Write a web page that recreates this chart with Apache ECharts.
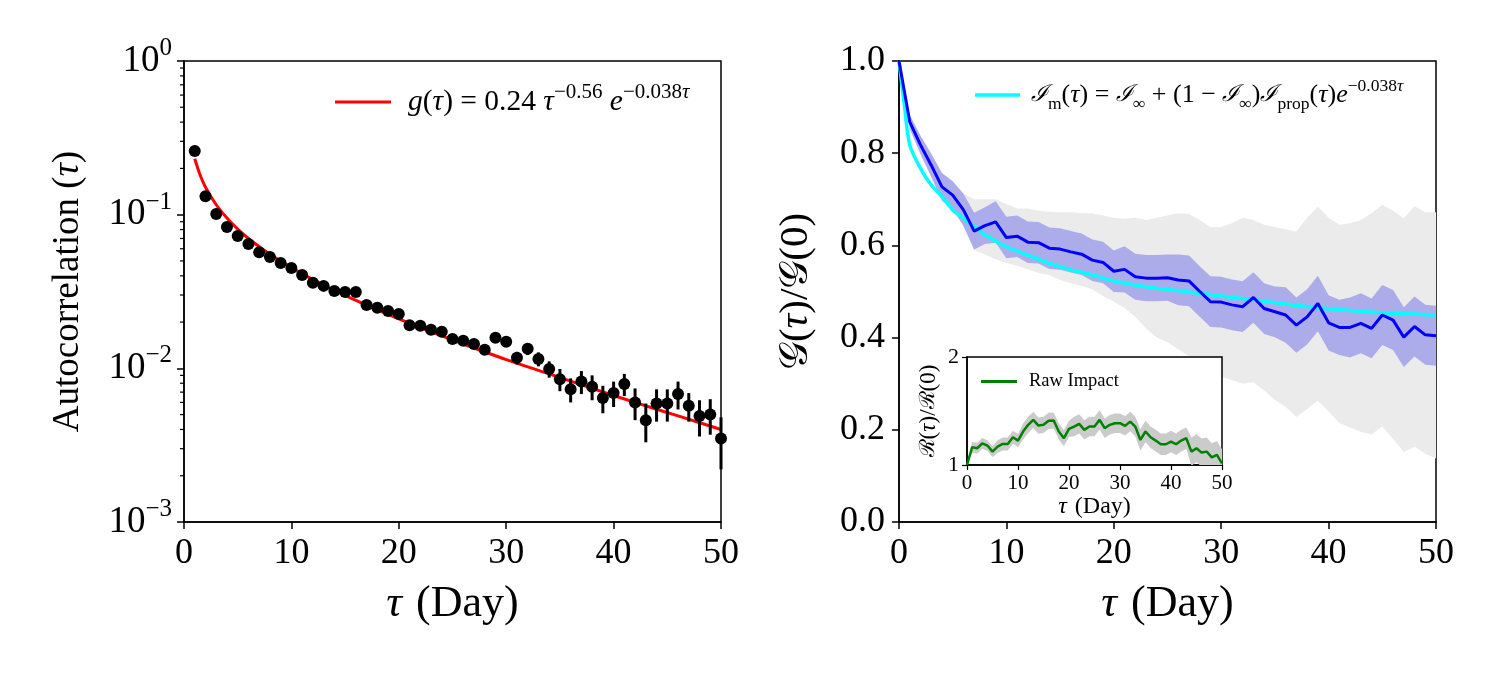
<!DOCTYPE html>
<html>
<head>
<meta charset="utf-8">
<script src="https://cdn.jsdelivr.net/npm/echarts@6/dist/echarts.min.js"></script>
<style>
html, body { margin: 0; padding: 0; background: #fff; }
#chart { width: 1500px; height: 675px; }
</style>
</head>
<body>
<div id="chart"></div>
<script>
// ---- left panel: autocorrelation vs lag (days 1..50)
const acf = [0.26, 0.132, 0.101, 0.083, 0.0727, 0.0644, 0.057, 0.053, 0.0485, 0.045,
  0.0405, 0.036, 0.0344, 0.0319, 0.0314, 0.0314, 0.0258, 0.0248, 0.0236, 0.0226,
  0.0191, 0.0189, 0.0178, 0.0173, 0.0155, 0.0151, 0.0144, 0.0132, 0.0158, 0.0149,
  0.0117, 0.0134, 0.0115, 0.0099, 0.0085, 0.0073, 0.0082, 0.0076, 0.0064, 0.0069,
  0.0079, 0.0060, 0.0046, 0.0059, 0.0059, 0.0068, 0.0057, 0.0049, 0.0050, 0.0035];
const acfErr = [0.001, 0.001, 0.001, 0.001, 0.001, 0.001, 0.001, 0.001, 0.001, 0.001,
  0.0009, 0.0009, 0.0009, 0.0009, 0.0009, 0.0009, 0.0009, 0.0009, 0.0009, 0.0009,
  0.001, 0.001, 0.001, 0.001, 0.001, 0.001, 0.001, 0.001, 0.001, 0.001,
  0.0011, 0.0012, 0.0012, 0.0012, 0.0014, 0.0013, 0.0014, 0.0014, 0.0013, 0.0013,
  0.0013, 0.0014, 0.0013, 0.0014, 0.0014, 0.0014, 0.0012, 0.0013, 0.0013, 0.0013];
const fitDays = [1, 1.5, 2, 3, 4, 5, 6, 7, 8, 10, 12, 14, 16, 18, 20, 23, 26, 30, 34, 38, 42, 46, 50];
const fitVals = [0.231, 0.181, 0.151, 0.116, 0.095, 0.0805, 0.070, 0.062, 0.0553, 0.0452, 0.0378,
  0.0321, 0.0277, 0.0240, 0.0210, 0.0173, 0.0144, 0.0114, 0.0092, 0.0074, 0.0060, 0.0049, 0.0040];
const minorTicks = [0.002, 0.003, 0.004, 0.005, 0.006, 0.007, 0.008, 0.009,
  0.02, 0.03, 0.04, 0.05, 0.06, 0.07, 0.08, 0.09,
  0.2, 0.3, 0.4, 0.5, 0.6, 0.7, 0.8, 0.9];

// ---- right panel: G(tau)/G(0), days 0..50
const ratio = [1.0, 0.868, 0.818, 0.774, 0.727, 0.709, 0.677, 0.631, 0.643, 0.651, 0.617,
  0.620, 0.607, 0.606, 0.594, 0.592, 0.586, 0.581, 0.568, 0.563, 0.544,
  0.548, 0.532, 0.529, 0.529, 0.530, 0.525, 0.523, 0.500, 0.478, 0.477,
  0.471, 0.467, 0.487, 0.463, 0.456, 0.449, 0.427, 0.445, 0.474, 0.432,
  0.422, 0.422, 0.431, 0.420, 0.449, 0.438, 0.401, 0.424, 0.406, 0.404];
const ratioErr = [0, 0.015, 0.02, 0.025, 0.03, 0.03, 0.035, 0.04, 0.04, 0.045, 0.045,
  0.045, 0.045, 0.045, 0.045, 0.045, 0.045, 0.045, 0.045, 0.045, 0.045,
  0.05, 0.05, 0.05, 0.05, 0.05, 0.055, 0.055, 0.055, 0.055, 0.055,
  0.055, 0.055, 0.055, 0.055, 0.055, 0.06, 0.06, 0.06, 0.06, 0.06,
  0.06, 0.065, 0.065, 0.065, 0.065, 0.065, 0.065, 0.065, 0.065, 0.065];
const spreadHi = [1.0, 0.883, 0.838, 0.799, 0.757, 0.739, 0.712, 0.70, 0.70, 0.70, 0.69,
  0.68, 0.68, 0.675, 0.673, 0.672, 0.672, 0.67, 0.67, 0.665, 0.66,
  0.658, 0.66, 0.655, 0.66, 0.665, 0.67, 0.668, 0.655, 0.64, 0.64,
  0.648, 0.66, 0.655, 0.645, 0.64, 0.635, 0.63, 0.66, 0.684, 0.66,
  0.645, 0.648, 0.655, 0.67, 0.688, 0.675, 0.659, 0.685, 0.672, 0.672];
const spreadLo = [1.0, 0.853, 0.798, 0.749, 0.697, 0.679, 0.642, 0.59, 0.58, 0.57, 0.562,
  0.556, 0.548, 0.54, 0.535, 0.525, 0.518, 0.512, 0.505, 0.49, 0.478,
  0.464, 0.445, 0.42, 0.40, 0.39, 0.375, 0.36, 0.345, 0.33, 0.315,
  0.308, 0.30, 0.303, 0.285, 0.265, 0.25, 0.228, 0.245, 0.263, 0.24,
  0.215, 0.205, 0.196, 0.19, 0.207, 0.18, 0.152, 0.163, 0.148, 0.138];
const modelDays = [0, 0.5, 1, 2, 3, 4, 5, 6, 7, 8, 10, 12, 14, 16, 18, 20, 22, 24, 27, 30, 33, 36, 39, 42, 45, 48, 50];
const modelVals = [1.0, 0.905, 0.818, 0.767, 0.731, 0.706, 0.677, 0.659, 0.641, 0.623, 0.597, 0.579,
  0.561, 0.547, 0.536, 0.523, 0.514, 0.507, 0.499, 0.490, 0.482, 0.473, 0.465, 0.459, 0.454, 0.451, 0.449];

// ---- inset: raw impact R(tau)/R(0)
const impact = [1.0, 1.164, 1.155, 1.20, 1.18, 1.124, 1.17, 1.195, 1.195, 1.257, 1.226,
  1.31, 1.372, 1.418, 1.365, 1.372, 1.409, 1.412, 1.31, 1.248, 1.334,
  1.356, 1.381, 1.325, 1.356, 1.356, 1.418, 1.341, 1.372, 1.387, 1.387,
  1.362, 1.402, 1.356, 1.232, 1.31, 1.257, 1.226, 1.192, 1.192, 1.217,
  1.192, 1.226, 1.248, 1.124, 1.155, 1.115, 1.124, 1.071, 1.093, 1.015];
const impactErr = [0, 0.05, 0.05, 0.05, 0.05, 0.05, 0.06, 0.06, 0.06, 0.06, 0.06,
  0.075, 0.075, 0.075, 0.075, 0.075, 0.075, 0.075, 0.075, 0.075, 0.075,
  0.09, 0.09, 0.09, 0.09, 0.09, 0.09, 0.09, 0.09, 0.09, 0.09,
  0.09, 0.09, 0.09, 0.1, 0.1, 0.1, 0.1, 0.1, 0.1, 0.1,
  0.1, 0.1, 0.1, 0.13, 0.13, 0.13, 0.13, 0.13, 0.13, 0.13];

const FONT = "'Liberation Serif', 'DejaVu Serif', serif";

const lagDays = acf.map((v, i) => i + 1);
const days = ratio.map((v, i) => i);
const pairs = (xs, ys) => xs.map((x, i) => [x, ys[i]]);

const acfBars = lagDays.map((d, i) => [d, acf[i] - acfErr[i], acf[i] + acfErr[i]]);
const ratioLo = ratio.map((v, i) => v - ratioErr[i]);
const ratioHi = ratio.map((v, i) => v + ratioErr[i]);
const impactLo = impact.map((v, i) => v - impactErr[i]);
const impactHi = impact.map((v, i) => v + impactErr[i]);

// filled band between two curves, drawn as one polygon through the axes' scales
function band(xIdx, yIdx, lo, hi, color, z, zlevel) {
  return {
    type: "custom", xAxisIndex: xIdx, yAxisIndex: yIdx, silent: true, clip: true, z: z, zlevel: zlevel || 0,
    data: days.map((d, i) => [d, lo[i], hi[i]]),
    encode: { x: 0, y: [1, 2] },
    renderItem: (params, api) => {
      if (params.dataIndex !== 0) return null;
      const top = days.map((d, i) => api.coord([d, hi[i]]));
      const bot = days.map((d, i) => api.coord([d, lo[i]])).reverse();
      return { type: "polygon", shape: { points: top.concat(bot) }, style: { fill: color, stroke: null } };
    }
  };
}

const myChart = echarts.init(document.getElementById("chart"));

const axisBase = {
  axisLine: { show: true, onZero: false, lineStyle: { color: "#000", width: 1.5 } },
  axisTick: { show: true, inside: false, length: 7, lineStyle: { color: "#000", width: 1.5 } },
  splitLine: { show: false },
  nameTextStyle: { color: "#000", fontFamily: FONT }
};
const bigLabel = { color: "#000", fontFamily: FONT, fontSize: 36, margin: 12 };
const nameRich = {
  i: { fontStyle: "italic", fontFamily: FONT, fontSize: 44, color: "#000" },
  gap: { width: 14 },
  r: { fontFamily: FONT, fontSize: 44, color: "#000" }
};

const option = {
  animation: false,
  backgroundColor: "#fff",
  textStyle: { fontFamily: FONT },
  grid: [
    { left: 184, right: 779, top: 61, bottom: 153, show: true, borderColor: "#000", borderWidth: 1.5, containLabel: false },
    { left: 899, right: 64, top: 61, bottom: 153, show: true, borderColor: "#000", borderWidth: 1.5, containLabel: false },
    { left: 967, right: 278, top: 357, bottom: 210, show: true, borderColor: "#000", borderWidth: 1.5,
      backgroundColor: "#fff", zlevel: 1, containLabel: false }
  ],
  legend: [
    {
      data: ["fit"], left: 330, top: 77, icon: "rect", itemWidth: 56, itemHeight: 3,
      formatter: () => "{gap| }{i|g}{r|(}{i|τ}{r|) = 0.24 }{i|τ}{sup|−0.56}{r| }{i|e}{sup|−0.038}{supi|τ}",
      textStyle: {
        rich: {
          gap: { width: 12 },
          r: { fontFamily: FONT, fontSize: 29.5, lineHeight: 40, color: "#000" },
          i: { fontFamily: FONT, fontSize: 29.5, lineHeight: 40, fontStyle: "italic", color: "#000" },
          sup: { fontFamily: FONT, fontSize: 21, lineHeight: 20, verticalAlign: "top", color: "#000" },
          supi: { fontFamily: FONT, fontSize: 21, lineHeight: 20, verticalAlign: "top", fontStyle: "italic", color: "#000" }
        }
      }
    },
    {
      data: ["model"], left: 970, top: 72, icon: "rect", itemWidth: 45, itemHeight: 3.5,
      formatter: () => "{gap| }{I|ℐ}{sub|m}{r|(}{i|τ}{r|) = }{I|ℐ}{sub|∞}{r| + (1 − }{I|ℐ}{sub|∞}{r|)}{I|ℐ}{sub|prop}{r|(}{i|τ}{r|)}{i|e}{sup|−0.038}{supi|τ}",
      textStyle: {
        rich: {
          gap: { width: 6 },
          r: { fontFamily: FONT, fontSize: 26, lineHeight: 36, color: "#000" },
          i: { fontFamily: FONT, fontSize: 26, lineHeight: 36, fontStyle: "italic", color: "#000" },
          I: { fontFamily: "'DejaVu Serif', serif", fontSize: 23, lineHeight: 36, fontStyle: "italic", color: "#000" },
          sub: { fontFamily: FONT, fontSize: 17.5, lineHeight: 20, verticalAlign: "bottom", color: "#000" },
          sup: { fontFamily: FONT, fontSize: 17.5, lineHeight: 18, verticalAlign: "top", color: "#000" },
          supi: { fontFamily: FONT, fontSize: 17.5, lineHeight: 18, verticalAlign: "top", fontStyle: "italic", color: "#000" }
        }
      }
    },
    {
      data: ["Raw Impact"], left: 976, top: 367, icon: "rect", itemWidth: 36, itemHeight: 3, zlevel: 1,
      textStyle: { fontFamily: FONT, fontSize: 18.5, color: "#000", padding: [0, 0, 0, 7] }
    }
  ],
  xAxis: [
    Object.assign({}, axisBase, {
      gridIndex: 0, type: "value", min: 0, max: 50, interval: 10,
      axisLabel: Object.assign({}, bigLabel, { margin: 14 }),
      name: "{i|τ}{gap| }{r|(Day)}", nameLocation: "middle", nameGap: 60,
      nameTextStyle: { rich: nameRich }
    }),
    Object.assign({}, axisBase, {
      gridIndex: 1, type: "value", min: 0, max: 50, interval: 10,
      axisLabel: Object.assign({}, bigLabel, { margin: 14 }),
      name: "{i|τ}{gap| }{r|(Day)}", nameLocation: "middle", nameGap: 60,
      nameTextStyle: { rich: nameRich }
    }),
    Object.assign({}, axisBase, {
      gridIndex: 2, type: "value", min: 0, max: 50, interval: 10, zlevel: 1,
      axisTick: { show: true, inside: false, length: 5, lineStyle: { color: "#000", width: 1.2 } },
      axisLabel: { color: "#000", fontFamily: FONT, fontSize: 21, margin: 8 },
      name: "{i|τ}{gap| }{r|(Day)}", nameLocation: "middle", nameGap: 27,
      nameTextStyle: { rich: {
        i: { fontStyle: "italic", fontFamily: FONT, fontSize: 24, color: "#000" },
        gap: { width: 8 },
        r: { fontFamily: FONT, fontSize: 24, color: "#000" }
      } }
    })
  ],
  yAxis: [
    Object.assign({}, axisBase, {
      gridIndex: 0, type: "log", logBase: 10, min: 0.001, max: 1,
      axisLabel: {
        margin: 12,
        formatter: v => {
          const e = Math.round(Math.log10(v));
          return "{b|10}{s|" + (e < 0 ? "−" + (-e) : e) + "}";
        },
        rich: {
          b: { fontFamily: FONT, fontSize: 37, lineHeight: 50, color: "#000" },
          s: { fontFamily: FONT, fontSize: 25, lineHeight: 24, verticalAlign: "top", color: "#000" }
        }
      },
      name: "{r|Autocorrelation (}{i|τ}{r|)}", nameLocation: "middle", nameGap: 97,
      nameTextStyle: { rich: {
        i: { fontStyle: "italic", fontFamily: FONT, fontSize: 37, color: "#000" },
        r: { fontFamily: FONT, fontSize: 37, color: "#000" }
      } }
    }),
    Object.assign({}, axisBase, {
      gridIndex: 1, type: "value", min: 0, max: 1, interval: 0.2,
      axisLabel: Object.assign({}, bigLabel, { margin: 14, formatter: v => v.toFixed(1) }),
      name: "{g|𝒢}{r|(}{i|τ}{r|)/}{g|𝒢}{r|(0)}", nameLocation: "middle", nameGap: 82,
      nameTextStyle: { rich: {
        g: { fontFamily: "'DejaVu Sans', 'DejaVu Serif', serif", fontSize: 40, color: "#000" },
        i: { fontStyle: "italic", fontFamily: FONT, fontSize: 41, color: "#000" },
        r: { fontFamily: FONT, fontSize: 41, color: "#000" }
      } }
    }),
    Object.assign({}, axisBase, {
      gridIndex: 2, type: "value", min: 1, max: 2, interval: 1, zlevel: 1,
      axisTick: { show: true, inside: false, length: 5, lineStyle: { color: "#000", width: 1.2 } },
      axisLabel: { color: "#000", fontFamily: FONT, fontSize: 22, margin: 8 },
      name: "{g|ℛ}{r|(}{i|τ}{r|)/}{g|ℛ}{r|(0)}", nameLocation: "middle", nameGap: 27,
      nameTextStyle: { rich: {
        g: { fontFamily: "'DejaVu Serif', serif", fontSize: 21, color: "#000" },
        i: { fontStyle: "italic", fontFamily: FONT, fontSize: 23, color: "#000" },
        r: { fontFamily: FONT, fontSize: 23, color: "#000" }
      } }
    })
  ],
  series: [
    // left panel
    {
      name: "fit", type: "line", xAxisIndex: 0, yAxisIndex: 0, smooth: 0.3,
      data: pairs(fitDays, fitVals), symbol: "none",
      lineStyle: { color: "#ff0000", width: 3 }, itemStyle: { color: "#ff0000" }, z: 2
    },
    {
      type: "custom", xAxisIndex: 0, yAxisIndex: 0, data: acfBars, z: 3, silent: true,
      encode: { x: 0, y: [1, 2] },
      renderItem: (params, api) => {
        const top = api.coord([api.value(0), api.value(2)]);
        const bot = api.coord([api.value(0), api.value(1)]);
        return { type: "line", shape: { x1: top[0], y1: top[1], x2: bot[0], y2: bot[1] },
          style: { stroke: "#000", lineWidth: 3 } };
      }
    },
    {
      type: "scatter", xAxisIndex: 0, yAxisIndex: 0, data: pairs(lagDays, acf),
      symbolSize: 12, itemStyle: { color: "#000", opacity: 1 }, z: 4
    },
    {
      type: "custom", xAxisIndex: 0, yAxisIndex: 0, data: minorTicks.map(v => [0, v]), z: 5, silent: true, clip: false,
      encode: { x: 0, y: 1 },
      renderItem: (params, api) => {
        const p = api.coord([0, api.value(1)]);
        return { type: "line", shape: { x1: p[0] - 4, y1: p[1], x2: p[0], y2: p[1] },
          style: { stroke: "#000", lineWidth: 1.2 } };
      }
    },
    // right panel
    band(1, 1, spreadLo, spreadHi, "#ebebeb", 1),
    band(1, 1, ratioLo, ratioHi, "#acacea", 2),
    {
      name: "model", type: "line", xAxisIndex: 1, yAxisIndex: 1, smooth: 0.3,
      data: pairs(modelDays, modelVals), symbol: "none",
      lineStyle: { color: "#00ffff", width: 3.5 }, itemStyle: { color: "#00ffff" }, z: 3
    },
    {
      type: "line", xAxisIndex: 1, yAxisIndex: 1, data: pairs(days, ratio), symbol: "none",
      lineStyle: { color: "#0000ff", width: 3 }, z: 4
    },
    // inset
    band(2, 2, impactLo, impactHi, "#cbcbcb", 1, 1),
    {
      name: "Raw Impact", type: "line", xAxisIndex: 2, yAxisIndex: 2, data: pairs(days, impact), zlevel: 1,
      symbol: "none", lineStyle: { color: "#008000", width: 2.5 }, itemStyle: { color: "#008000" }, z: 3
    }
  ]
};

myChart.setOption(option);
window.addEventListener("resize", () => myChart.resize(), false);
</script>
</body>
</html>
